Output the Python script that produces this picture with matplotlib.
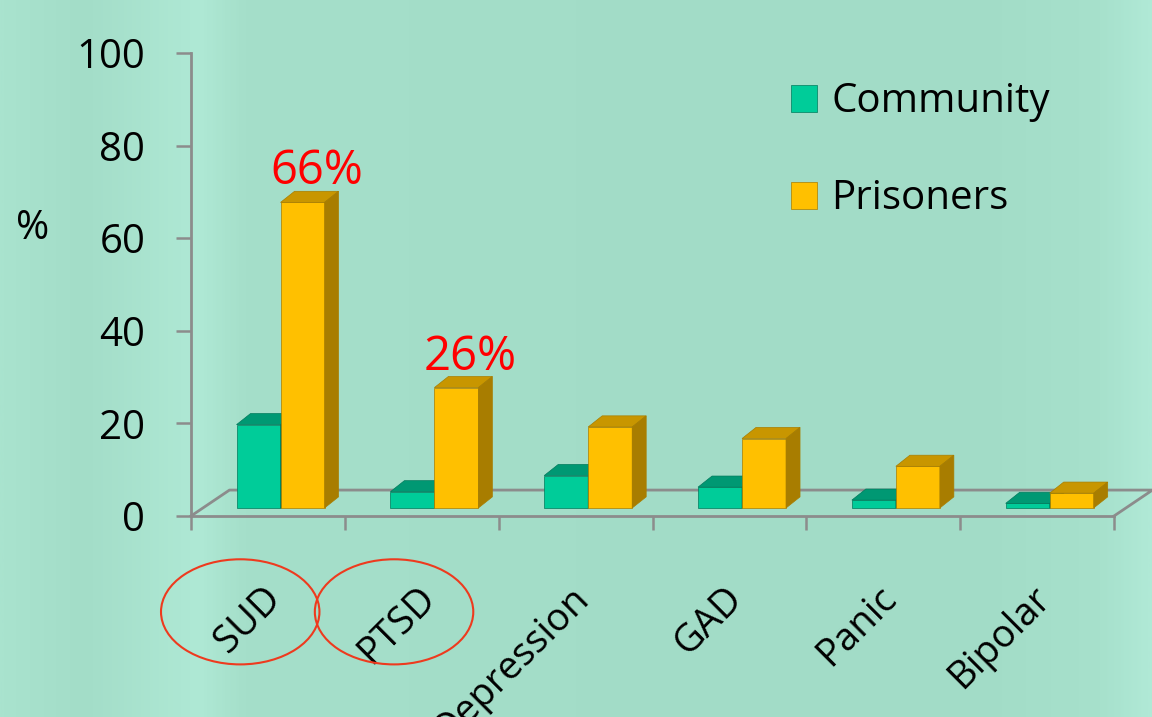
import matplotlib.pyplot as plt
from matplotlib.colors import LinearSegmentedColormap
from matplotlib.patches import Polygon, Ellipse
import numpy as np

plt.rcParams["font.family"] = ["Open Sans", "DejaVu Sans"]

categories = ["SUD", "PTSD", "Depression", "GAD", "Panic", "Bipolar"]
community = [18, 3.5, 7, 4.5, 1.7, 1]
prisoners = [66, 26, 17.5, 15, 9, 3.2]
y_ticks = [0, 20, 40, 60, 80, 100]
callouts = {"SUD": "66%", "PTSD": "26%"}

W, H = 1152, 717
GRAY = "#8c8c8c"
GREEN = ("#00cc99", "#009873", "#007a5c")
GOLD = ("#ffc000", "#c89600", "#a87d00")

# 3D look, in data units (x: categories, y: percent)
FLOOR_DX, FLOOR_DY = 0.25, 5.6
BAR_SHIFT_X, BAR_BASE = 0.082, 1.73
DEPTH_DX, DEPTH_DY = 0.091, 2.4
BAR_W = 0.286


def bar3d(ax, xs, values, colors, z):
    front, top, side = colors
    bars = ax.bar(xs, values, BAR_W, bottom=BAR_BASE, align="edge",
                  color=front, edgecolor=side, linewidth=0.5, zorder=z)
    for x0, v in zip(xs, values):
        y1 = BAR_BASE + v
        ax.add_patch(Polygon([(x0, y1), (x0 + BAR_W, y1),
                              (x0 + BAR_W + DEPTH_DX, y1 + DEPTH_DY),
                              (x0 + DEPTH_DX, y1 + DEPTH_DY)],
                             closed=True, fc=top, ec=side, lw=0.5, zorder=z))
        ax.add_patch(Polygon([(x0 + BAR_W, BAR_BASE),
                              (x0 + BAR_W + DEPTH_DX, BAR_BASE + DEPTH_DY),
                              (x0 + BAR_W + DEPTH_DX, y1 + DEPTH_DY),
                              (x0 + BAR_W, y1)],
                             closed=True, fc=side, ec=side, lw=0.5, zorder=z))
    return bars


fig = plt.figure(figsize=(W / 100, H / 100), dpi=100)

# soft mint background
bg = fig.add_axes([0, 0, 1, 1], zorder=-5)
bg_cmap = LinearSegmentedColormap.from_list("bg", [
    (0.0, "#a9e3ce"), (0.07, "#a3ddc8"), (0.17, "#afe9d5"), (0.21, "#a5dfca"),
    (0.5, "#a3ddc8"), (0.85, "#a2dcc7"), (0.96, "#a7e1cc"), (1.0, "#b0e9d6")])
bg.imshow(np.linspace(0, 1, 400)[None, :], cmap=bg_cmap, aspect="auto",
          extent=[0, 1, 0, 1])
bg.axis("off")

ax = fig.add_axes([191 / W, (H - 516) / H, (1114 - 191) / W, (516 - 53) / H])
ax.patch.set_alpha(0)
ax.set_xlim(0, len(categories))
ax.set_ylim(0, 100)

for s in ["top", "right"]:
    ax.spines[s].set_visible(False)
for s in ["left", "bottom"]:
    ax.spines[s].set_color(GRAY)
    ax.spines[s].set_linewidth(2)

ax.set_yticks(y_ticks)
ax.tick_params(axis="y", length=11, width=1.8, color=GRAY, labelsize=29, pad=22)
ax.set_xticks(np.arange(len(categories) + 1))
ax.set_xticklabels([])
ax.tick_params(axis="x", length=10, width=1.8, color=GRAY)

# floor outline
n = len(categories)
ax.plot([0, FLOOR_DX, n + FLOOR_DX, n], [0, FLOOR_DY, FLOOR_DY, 0],
        color=GRAY, lw=2, clip_on=False, zorder=1)

idx = np.arange(n)
left = idx + 0.5 + BAR_SHIFT_X - BAR_W
bars_c = bar3d(ax, left, community, GREEN, 3)
bars_p = bar3d(ax, left + BAR_W, prisoners, GOLD, 4)

for i, cat in enumerate(categories):
    if cat in callouts:
        ax.text(left[i] + 1.5 * BAR_W + DEPTH_DX, BAR_BASE + prisoners[i] + DEPTH_DY + 1.5,
                callouts[cat], color="#ff0000", fontsize=34, ha="center", va="baseline",
                zorder=6)
    ax.text(i + 0.55, -16.5, cat, rotation=45, rotation_mode="anchor",
            ha="right", va="center", fontsize=27.5, clip_on=False)
    if cat in callouts:
        ax.add_patch(Ellipse((i + 0.32, -20.7), 1.03, 22.7, fill=False,
                             ec="#ee3a1e", lw=1.5, clip_on=False, zorder=6))

fig.text(33 / W, 1 - 229 / H, "%", fontsize=29, ha="center", va="center")

ax.legend([bars_c, bars_p], ["Community", "Prisoners"], loc="upper left",
          bbox_to_anchor=(791 / W, 1 - 82 / H), bbox_transform=fig.transFigure,
          frameon=False, fontsize=29, handlelength=0.65, handleheight=0.65,
          handletextpad=0.35, labelspacing=1.4, borderpad=0, borderaxespad=0)

fig.savefig("out.png", dpi=100)
